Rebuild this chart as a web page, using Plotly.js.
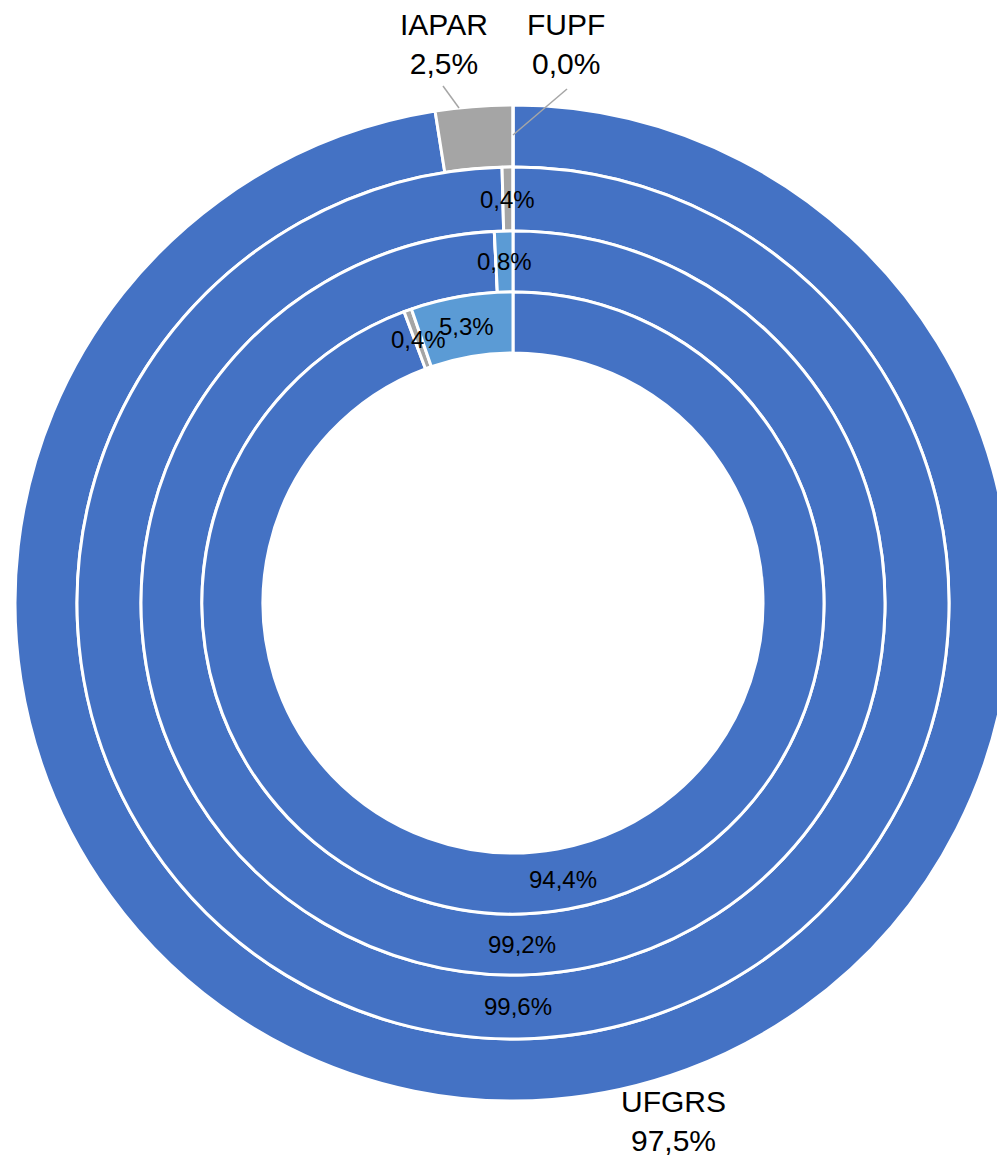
<!DOCTYPE html>
<html>
<head>
<meta charset="utf-8">
<script src="https://cdn.plot.ly/plotly-3.0.1.min.js"></script>
<style>
html, body { margin: 0; padding: 0; overflow: hidden; background: #ffffff; }
#chart { width: 1030px; height: 1158px; }
</style>
</head>
<body>
<div id="chart"></div>
<script>
// ---- data ----
const categories = ['UFGRS', 'IAPAR', 'FUPF'];
const ring1Values = [97.5, 2.5, 0.0];   // outer ring
const ring2Values = [99.6, 0.4, 0.0];
const ring3Values = [99.2, 0.0, 0.8];
const ring4Values = [94.4, 0.4, 5.3];   // inner ring
const seriesNames = ['Série 1', 'Série 2', 'Série 3', 'Série 4'];
const sliceColors = ['#4472C4', '#A5A5A5', '#5B9BD5'];

// ---- geometry / layout ----
const W = 1030, H = 1158;
const cx = 513, cy = 603;
const radii = [498, 436, 372, 311, 250]; // ring boundaries, outer to inner

const rings = [ring1Values, ring2Values, ring3Values, ring4Values];

function fmt(v) { return v.toFixed(1).replace('.', ',') + '%'; }
function px2x(px) { return px / W; }
function py2y(py) { return 1 - py / H; }

const traces = rings.map((vals, i) => {
  const R = radii[i], r = radii[i + 1];
  return {
    type: 'pie',
    name: seriesNames[i],
    labels: categories,
    values: vals,
    sort: false,
    direction: 'clockwise',
    rotation: 0,
    hole: r / R,
    textinfo: 'none',
    hoverinfo: 'none',
    showlegend: false,
    marker: { colors: sliceColors, line: { color: '#ffffff', width: 3 } },
    domain: {
      x: [px2x(cx - R), px2x(cx + R)],
      y: [py2y(cy + R), py2y(cy - R)]
    }
  };
});

const annotations = [];
// inner ring value labels, placed at each slice's mid-angle
for (let i = 1; i < rings.length; i++) {
  const vals = rings[i];
  const total = vals.reduce((a, b) => a + b, 0);
  const rMid = (radii[i] + radii[i + 1]) / 2;
  let cum = 0;
  vals.forEach((v) => {
    const mid = (cum + v / 2) / total;
    cum += v;
    if (v <= 0) return;
    const th = 2 * Math.PI * mid;
    annotations.push({
      xref: 'paper', yref: 'paper',
      x: px2x(cx + rMid * Math.sin(th)),
      y: py2y(cy - rMid * Math.cos(th)),
      text: fmt(v), showarrow: false,
      xanchor: 'center', yanchor: 'middle',
      font: { family: 'Liberation Sans, Arial, sans-serif', size: 24, color: '#000000' }
    });
  });
}
// outer ring category labels
const outerLabelPos = { UFGRS: [673, 1121], IAPAR: [444, 44], FUPF: [566, 44] };
categories.forEach((c, k) => {
  const p = outerLabelPos[c];
  annotations.push({
    xref: 'paper', yref: 'paper',
    x: px2x(p[0]), y: py2y(p[1]),
    text: c + '<br>' + fmt(ring1Values[k]), showarrow: false,
    xanchor: 'center', yanchor: 'middle',
    font: { family: 'Liberation Sans, Arial, sans-serif', size: 30, color: '#000000' }
  });
});

const leaderLines = [
  [443, 86, 459, 108],
  [567, 89, 513, 135]
];
const shapes = leaderLines.map(l => ({
  type: 'line', xref: 'paper', yref: 'paper',
  x0: px2x(l[0]), y0: py2y(l[1]), x1: px2x(l[2]), y1: py2y(l[3]),
  line: { color: '#A6A6A6', width: 1.5 }
}));

const layout = {
  width: W, height: H,
  autosize: false,
  margin: { l: 0, r: 0, t: 0, b: 0, pad: 0 },
  paper_bgcolor: '#ffffff',
  plot_bgcolor: '#ffffff',
  showlegend: false,
  annotations: annotations,
  shapes: shapes
};

Plotly.newPlot('chart', traces, layout, { displayModeBar: false, staticPlot: true });
</script>
</body>
</html>
